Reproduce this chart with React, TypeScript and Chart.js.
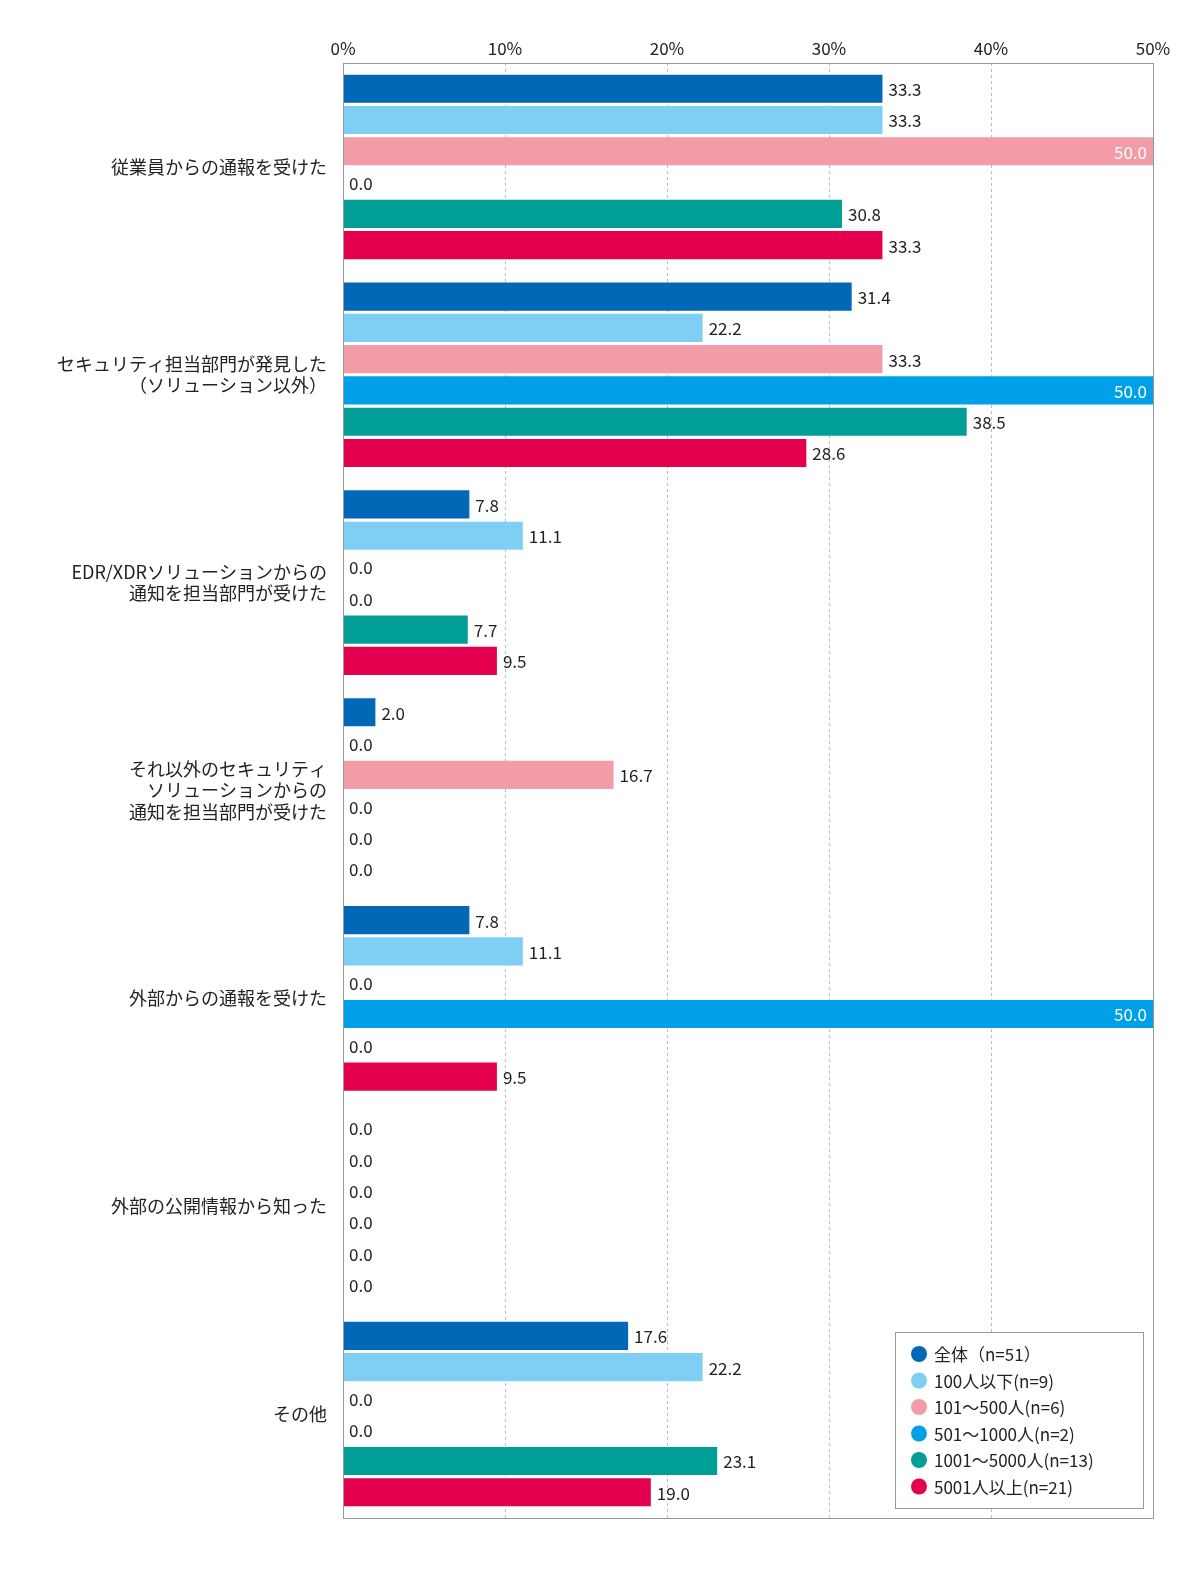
import React, { useEffect, useRef } from "react";
import { Chart, registerables } from "chart.js";
Chart.register(...registerables);

const categories: string[][] = [
  ["従業員からの通報を受けた"],
  ["セキュリティ担当部門が発見した", "（ソリューション以外）"],
  ["EDR/XDRソリューションからの", "通知を担当部門が受けた"],
  ["それ以外のセキュリティ", "ソリューションからの", "通知を担当部門が受けた"],
  ["外部からの通報を受けた"],
  ["外部の公開情報から知った"],
  ["その他"],
];
const seriesNames = ["全体（n=51）", "100人以下(n=9)", "101～500人(n=6)", "501～1000人(n=2)", "1001～5000人(n=13)", "5001人以上(n=21)"];
const colors = ["#0068b7", "#7fcef4", "#f19ca7", "#00a0e9", "#009e96", "#e4004f"];
const all = [33.3, 31.4, 7.8, 2.0, 7.8, 0.0, 17.6];
const le100 = [33.3, 22.2, 11.1, 0.0, 11.1, 0.0, 22.2];
const s101 = [50.0, 33.3, 0.0, 16.7, 0.0, 0.0, 0.0];
const s501 = [0.0, 50.0, 0.0, 0.0, 50.0, 0.0, 0.0];
const s1001 = [30.8, 38.5, 7.7, 0.0, 0.0, 0.0, 23.1];
const s5001 = [33.3, 28.6, 9.5, 0.0, 9.5, 0.0, 19.0];
const seriesValues = [all, le100, s101, s501, s1001, s5001];
const xTicks = [0, 10, 20, 30, 40, 50];
const FONT = "'Noto Sans CJK JP', 'Noto Sans', sans-serif";

export default function App() {
  const ref = useRef<HTMLCanvasElement>(null);
  useEffect(() => {
    document.body.style.margin = "0";
    const labelPlugin = {
      id: "labels",
      afterDatasetsDraw(chart: any) {
        const ctx = chart.ctx;
        const xs = chart.scales.x;
        ctx.save();
        ctx.font = `17px ${FONT}`;
        ctx.textBaseline = "middle";
        chart.data.datasets.forEach((ds: any, i: number) => {
          const meta = chart.getDatasetMeta(i);
          meta.data.forEach((bar: any, j: number) => {
            const v = ds.data[j];
            const t = v.toFixed(1);
            if (v >= 50) {
              ctx.fillStyle = "#fff";
              ctx.textAlign = "right";
              ctx.fillText(t, bar.x - 6, bar.y + 1);
            } else {
              ctx.fillStyle = "#222";
              ctx.textAlign = "left";
              ctx.fillText(t, Math.max(bar.x, xs.left) + 6, bar.y + 1);
            }
          });
        });
        // border
        const a = chart.chartArea;
        ctx.strokeStyle = "#999";
        ctx.lineWidth = 1;
        ctx.strokeRect(a.left + 0.5, a.top + 0.5, a.right - a.left, a.bottom - a.top);
        // legend
        const lx = 895, ly = 1332, lw = 248, lh = 176;
        ctx.fillStyle = "#fff";
        ctx.fillRect(lx, ly, lw, lh);
        ctx.strokeStyle = "#999";
        ctx.strokeRect(lx + 0.5, ly + 0.5, lw, lh);
        ctx.font = `17px ${FONT}`;
        ctx.textAlign = "left";
        seriesNames.forEach((n, k) => {
          const y = ly + 22 + k * 26.5;
          ctx.fillStyle = colors[k];
          ctx.beginPath();
          ctx.arc(lx + 24, y, 8, 0, Math.PI * 2);
          ctx.fill();
          ctx.fillStyle = "#222";
          ctx.fillText(n, lx + 39, y + 1);
        });
        ctx.restore();
      },
    };
    const chart = new Chart(ref.current!, {
      type: "bar",
      data: {
        labels: categories,
        datasets: seriesValues.map((d, i) => ({
          label: seriesNames[i],
          data: d,
          backgroundColor: colors[i],
          categoryPercentage: 0.903,
          barPercentage: 0.9,
        })),
      },
      options: {
        indexAxis: "y",
        animation: false,
        responsive: false,
        layout: { padding: { top: 0, right: 47, bottom: 55, left: 0 } },
        plugins: { legend: { display: false }, tooltip: { enabled: false } },
        scales: {
          x: {
            position: "top",
            min: 0,
            max: 50,
            afterFit: (s: any) => { s.height = 63; },
            afterBuildTicks: (s: any) => { s.ticks = xTicks.map((v) => ({ value: v })); },
            ticks: { callback: (v: any) => v + "%", color: "#222", font: { family: FONT, size: 17 }, padding: 4 },
            grid: { color: "#bbb", tickLength: 0, drawTicks: false },
            border: { display: false, dash: [3, 3] },
          },
          y: {
            afterFit: (s: any) => { s.width = 343; },
            ticks: { color: "#222", font: { family: FONT, size: 18 }, padding: 8 },
            grid: { display: false },
            border: { display: false },
          },
        },
      },
      plugins: [labelPlugin],
    } as any);
    return () => chart.destroy();
  }, []);
  return (
    <div style={{ width: 1200, height: 1573, background: "#fff" }}>
      <canvas ref={ref} width={1200} height={1573} style={{ width: 1200, height: 1573 }} />
    </div>
  );
}
